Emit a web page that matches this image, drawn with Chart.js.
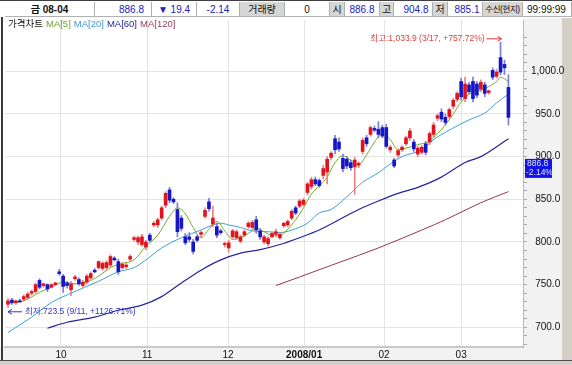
<!DOCTYPE html>
<html lang="ko">
<head>
<meta charset="UTF-8" />
<title>금 08-04 가격차트</title>
<style>
  html, body { margin: 0; padding: 0; background: #fff; }
  #wrap { position: relative; width: 572px; height: 365px; overflow: hidden; background: #fff;
    font-family: "Liberation Sans", "Noto Sans CJK KR", sans-serif; }
  #chart { position: absolute; left: 0; top: 0; }
  #head { position: absolute; left: 0; top: 0; width: 572px; height: 17px; border-top: 1px solid #404040;
    background: #fff; }
  #head .c { position: absolute; top: 1px; height: 15px; line-height: 15px; font-size: 10px; text-align: center;
    border-right: 1px solid #b0b0b0; border-bottom: 1px solid #b0b0b0; box-sizing: border-box; white-space: nowrap; overflow: hidden; color: #111; }
  #head .b { color: #2020c0; }
  #head .g { background: #d6d6d6; }
  #legend { position: absolute; left: 8px; top: 18px; font-size: 9.5px; line-height: 11px; white-space: nowrap; }
  #legend span { margin-right: 3px; }
  #leftbar { position: absolute; left: 1px; top: 17px; width: 2px; height: 343px; background: #3a3a3a; }
  #bottombar { position: absolute; left: 0; top: 360px; width: 572px; height: 5px; background: #d4d0c8; border-top: 1px solid #505050; }
</style>
</head>
<body>
<div id="wrap">
  <canvas id="chart" width="572" height="365"></canvas>
  <div id="head">
    <div class="c" style="left:5px;width:90px"><b>금 08-04</b></div>
    <div class="c b" style="left:95px;width:57px;text-align:right;padding-right:7px">886.8</div>
    <div class="c b" style="left:152px;width:45px">▼ 19.4</div>
    <div class="c b" style="left:197px;width:43px">-2.14</div>
    <div class="c g" style="left:240px;width:45px">거래량</div>
    <div class="c" style="left:285px;width:45px">0</div>
    <div class="c g" style="left:330px;width:15px">시</div>
    <div class="c b" style="left:345px;width:35px">886.8</div>
    <div class="c g" style="left:380px;width:14px">고</div>
    <div class="c b" style="left:394px;width:39px;padding-left:6px">904.8</div>
    <div class="c g" style="left:433px;width:15px">저</div>
    <div class="c b" style="left:448px;width:35px;padding-left:4px">885.1</div>
    <div class="c g" style="left:483px;width:40px;font-size:8.5px;letter-spacing:-0.4px">수신(현지)</div>
    <div class="c" style="left:523px;width:49px;text-align:left;padding-left:4px">99:99:99</div>
  </div>
  <div id="legend">
    <span style="color:#111">가격차트</span><span style="color:#66a828">MA[5]</span><span style="color:#3a9ad6">MA[20]</span><span style="color:#22229a">MA[60]</span><span style="color:#9a3a5a">MA[120]</span>
  </div>
  <div id="leftbar"></div>
  <div id="bottombar"></div>
</div>

<script src="https://cdn.jsdelivr.net/npm/chart.js"></script>
<script>
const FONT = '"Liberation Sans", "Noto Sans CJK KR", sans-serif';

// daily candles, one per trading day (index 0 = first visible day)
const opens = [727, 732, 729, 731, 733, 735, 740, 742, 755, 749, 750, 747, 750, 765, 760, 752, 744, 757, 756, 749,
  753, 758, 767, 770, 769, 770, 773, 781, 777, 770, 771, 780, 803, 800, 797, 794, 808, 820, 820, 828,
  843, 861, 850, 838, 828, 806, 806, 800, 806, 809, 830, 847, 821, 818, 813, 797, 793, 806, 805, 801,
  808, 818, 817, 826, 813, 800, 798, 806, 809, 805, 819, 820, 828, 840, 842, 844, 858, 865, 873, 872,
  878, 882, 899, 921, 917, 898, 897, 893, 888, 890, 906, 922, 926, 933, 932, 934, 934, 908, 896, 902,
  908, 915, 922, 917, 903, 905, 915, 917, 926, 945, 952, 946, 947, 959, 967, 988, 968, 984, 988, 985,
  979, 984, 975, 1001, 994, 1016, 1008, 981];
const highs = [734, 734, 732, 733, 738, 741, 744, 752, 757, 752, 751, 751, 753, 768, 762, 754, 754, 761, 758, 755,
  762, 765, 769, 778, 777, 778, 785, 783, 780, 776, 775, 785, 807, 807, 809, 802, 810, 824, 828, 842,
  859, 864, 852, 846, 831, 810, 811, 803, 808, 813, 840, 851, 842, 822, 815, 800, 802, 815, 814, 808,
  814, 824, 825, 830, 816, 808, 806, 812, 815, 811, 823, 826, 838, 842, 850, 851, 870, 876, 876, 874,
  890, 900, 906, 925, 922, 903, 900, 896, 899, 894, 922, 925, 936, 936, 941, 937, 938, 913, 898, 909,
  913, 924, 933, 920, 912, 913, 918, 929, 940, 950, 956, 950, 957, 968, 976, 992, 993, 987, 993, 988,
  990, 987, 978, 1004, 1002, 1033.9, 1013, 996];
const lows = [723.5, 727, 727, 729, 731, 733, 738, 740, 745, 747, 742, 746, 749, 761, 741, 746, 737, 755, 749, 747,
  751, 756, 764, 768, 767, 767, 771, 778, 762, 768, 769, 778, 801, 797, 795, 791, 800, 818, 817, 826,
  840, 846, 845, 806, 813, 797, 800, 786, 800, 806, 828, 836, 818, 805, 809, 794, 788, 804, 803, 799,
  806, 816, 815, 810, 803, 798, 795, 805, 806, 803, 817, 818, 826, 832, 840, 842, 855, 862, 866, 864,
  874, 868, 896, 903, 906, 882, 886, 884, 856, 887, 903, 912, 924, 929, 922, 922, 910, 905, 887, 899,
  906, 913, 919, 906, 900, 903, 902, 914, 923, 942, 941, 937, 944, 956, 964, 966, 964, 973, 964, 969,
  976, 970, 973, 990, 992, 996, 996, 937];
const closes = [731, 729, 731, 730, 736, 739, 742, 750, 747, 751, 745, 750, 752, 763, 748, 749, 751, 759, 751, 753,
  760, 763, 765, 777, 775, 776, 783, 779, 765, 774, 773, 783, 805, 805, 806, 800, 802, 822, 826, 840,
  857, 849, 847, 812, 816, 799, 803, 789, 802, 811, 837, 839, 828, 808, 811, 798, 799, 813, 812, 806,
  812, 822, 823, 814, 806, 806, 804, 810, 812, 809, 822, 824, 836, 834, 848, 849, 868, 873, 868, 866,
  886, 897, 904, 908, 909, 886, 889, 887, 896, 892, 919, 915, 934, 931, 926, 924, 912, 911, 889, 907,
  911, 922, 930, 909, 910, 911, 905, 927, 937, 948, 944, 940, 955, 966, 974, 970, 985, 976, 968, 972,
  987, 974, 977, 993, 999, 999, 1004, 946];

// moving averages: [day index, price]
const ma5 = [[0, 728], [4, 731], [8, 741], [11, 747], [14, 753], [17, 751], [20, 753], [23, 760], [26, 770], [29, 775],
  [32, 779], [35, 795], [38, 808], [41, 830], [43, 840], [45, 833], [47, 817], [49, 805], [51, 815], [53, 824],
  [55, 813], [57, 803], [59, 805], [61, 810], [63, 816], [65, 812], [67, 808], [69, 808], [71, 815], [73, 826],
  [75, 840], [77, 856], [79, 866], [81, 876], [83, 893], [85, 901], [87, 896], [89, 891], [91, 902], [93, 917],
  [95, 927], [97, 920], [99, 908], [101, 910], [104, 914], [107, 918], [109, 927], [111, 937], [113, 950],
  [115, 964], [118, 976], [120, 978], [122, 982], [124, 988], [125, 993], [127, 988]];
const ma20 = [[0, 694], [6, 712], [11, 729], [16, 740], [23, 754], [28, 765], [32, 770], [35, 779], [39, 793],
  [44, 805], [49, 814], [52, 820], [54, 822], [56, 820], [59, 817], [62, 813], [66, 812], [69, 811], [72, 814],
  [76, 822], [79, 834], [82, 838], [86, 853], [90, 870], [94, 881], [96, 888], [100, 900], [105, 908], [108, 920],
  [112, 931], [117, 943], [121, 951], [124, 963], [127, 973]];
const ma60 = [[10, 699], [15, 706], [22, 712], [28, 720], [34, 726], [39, 736], [44, 752], [49, 767], [54, 779],
  [59, 787], [64, 791], [69, 797], [74, 805], [79, 814], [84, 826], [89, 838], [94, 848], [99, 857], [104, 864],
  [110, 876], [116, 893], [120, 900], [127, 921]];
const ma120 = [[68, 749], [74, 759], [84, 776], [94, 793], [105, 814], [111, 826], [120, 846], [127, 859]];

const monthPos = [13.45, 35.3, 55.85, 75.15, 95.45, 115.0];
const monthLabels = ['10', '11', '12', '2008/01', '02', '03'];
const priceLabelMax = 1040; // no price label / grid line above this

const hiIdx = 125, hiVal = 1033.9, hiText = '최고:1,033.9 (3/17, +757.72%)';
const loIdx = 0, loVal = 723.5, loText = '최저:723.5 (9/11, +1126.71%)';
const lastPrice = 886.8, lastPct = '-2.14%';

const UP = '#e0141c', DOWN = '#1616c4', UP_WICK = '#ee8080', DOWN_WICK = '#7c7cdc';

const isUp = opens.map((o, i) => closes[i] >= o);
const pts = arr => arr.map(p => ({ x: p[0], y: p[1] }));
const isMajor = v => Math.round(v) % 50 === 0 && v <= priceLabelMax;

const decor = {
  id: 'decor',
  beforeDraw(chart) {
    const { ctx, chartArea: a } = chart;
    ctx.save();
    ctx.fillStyle = '#f2f2f2';
    ctx.fillRect(a.right, a.top - 3, chart.width - a.right, chart.height - a.top + 3);
    ctx.fillRect(0, a.bottom, a.right, chart.height - a.bottom);
    ctx.fillStyle = '#d4d0c8';
    ctx.fillRect(562, a.top - 3, 10, chart.height);
    ctx.restore();
  },
  afterDraw(chart) {
    const { ctx, chartArea: a, scales: { x, y } } = chart;
    ctx.save();
    ctx.font = '8.5px ' + FONT;
    ctx.textBaseline = 'middle';

    // highest price label
    const hx = x.getPixelForValue(hiIdx), hy = y.getPixelForValue(hiVal) - 4;
    ctx.fillStyle = '#e0403a';
    ctx.strokeStyle = '#e0403a';
    ctx.textAlign = 'right';
    ctx.fillText(hiText, hx - 16, hy);
    ctx.beginPath();
    ctx.moveTo(hx - 14, hy + 0.5); ctx.lineTo(hx + 1, hy + 0.5);
    ctx.moveTo(hx - 3, hy - 2); ctx.lineTo(hx + 1, hy + 0.5); ctx.lineTo(hx - 3, hy + 3);
    ctx.lineWidth = 1;
    ctx.stroke();

    // lowest price label
    const lx = x.getPixelForValue(loIdx), ly = y.getPixelForValue(loVal) + 4;
    ctx.fillStyle = '#3434c0';
    ctx.strokeStyle = '#3434c0';
    ctx.textAlign = 'left';
    ctx.fillText(loText, lx + 17, ly);
    ctx.beginPath();
    ctx.moveTo(lx + 14, ly + 0.5); ctx.lineTo(lx, ly + 0.5);
    ctx.moveTo(lx + 4, ly - 2); ctx.lineTo(lx, ly + 0.5); ctx.lineTo(lx + 4, ly + 3);
    ctx.stroke();

    // current price tag on the price axis
    const py = y.getPixelForValue(lastPrice);
    ctx.fillStyle = '#1414e6';
    ctx.fillRect(a.right + 2, py - 9, 27, 19);
    ctx.fillStyle = '#dde4ff';
    ctx.fillText(lastPrice.toFixed(1), a.right + 4, py - 4);
    ctx.fillText(lastPct, a.right + 3, py + 5);
    ctx.restore();
  }
};

new Chart(document.getElementById('chart'), {
  type: 'bar',
  data: {
    datasets: [
      {
        label: 'wick',
        data: highs.map((h, i) => ({ x: i, y: [lows[i], h] })),
        backgroundColor: isUp.map(u => u ? UP_WICK : DOWN_WICK),
        barThickness: 1,
        grouped: false,
        order: 1
      },
      {
        label: 'body',
        data: opens.map((o, i) => ({ x: i, y: [o, closes[i]] })),
        backgroundColor: isUp.map(u => u ? UP : DOWN),
        barThickness: 3,
        minBarLength: 1,
        grouped: false,
        order: 0
      },
      { type: 'line', label: 'MA[5]', data: pts(ma5), borderColor: '#72aa2c', borderWidth: 1, order: 2 },
      { type: 'line', label: 'MA[20]', data: pts(ma20), borderColor: '#3c9fd8', borderWidth: 1, order: 2 },
      { type: 'line', label: 'MA[60]', data: pts(ma60), borderColor: '#25259e', borderWidth: 1.2, order: 2 },
      { type: 'line', label: 'MA[120]', data: pts(ma120), borderColor: '#973552', borderWidth: 1, order: 2 }
    ]
  },
  options: {
    responsive: false,
    animation: false,
    layout: { padding: { left: 5, top: 20, right: 4, bottom: 5 } },
    elements: {
      line: { cubicInterpolationMode: 'monotone', fill: false },
      point: { radius: 0 },
      bar: { borderWidth: 0, borderSkipped: false }
    },
    plugins: { legend: { display: false }, tooltip: { enabled: false } },
    scales: {
      x: {
        type: 'linear',
        min: -0.76,
        max: 130.7,
        offset: false,
        afterBuildTicks: s => { s.ticks = monthPos.map(v => ({ value: v })); },
        afterFit: s => { s.height = 13; },
        grid: { color: '#e4e4e4', offset: false, drawTicks: false },
        border: { color: '#c8c8c8', width: 2 },
        ticks: {
          autoSkip: false,
          maxRotation: 0,
          padding: 2,
          color: '#111',
          callback: (v, i) => monthLabels[i],
          font: c => ({ family: FONT, size: 10, weight: c.index === 3 ? 'bold' : 'normal' })
        }
      },
      y: {
        position: 'right',
        min: 677,
        max: 1060,
        afterFit: s => { s.width = 45; },
        grid: {
          color: c => isMajor(c.tick.value) ? '#e4e4e4' : 'rgba(0,0,0,0)',
          tickColor: c => c.tick.value <= priceLabelMax + 5 ? '#a8a8a8' : 'rgba(0,0,0,0)',
          tickLength: 4
        },
        border: { color: '#b8b8b8' },
        ticks: {
          stepSize: 10,
          includeBounds: false,
          autoSkip: false,
          padding: 4,
          crossAlign: 'center',
          color: '#111',
          font: { family: FONT, size: 10 },
          callback: v => isMajor(v)
            ? v.toLocaleString('en-US', { minimumFractionDigits: 1, maximumFractionDigits: 1 }) : ''
        }
      }
    }
  },
  plugins: [decor]
});
</script>
</body>
</html>
